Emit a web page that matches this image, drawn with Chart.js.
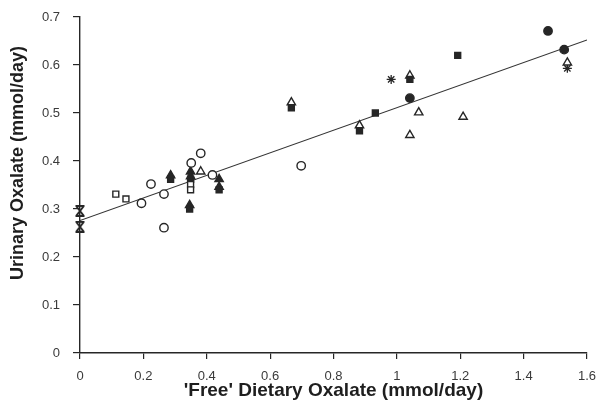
<!DOCTYPE html>
<html>
<head>
<meta charset="utf-8">
<script src="https://cdn.jsdelivr.net/npm/chart.js@4/dist/chart.umd.min.js"></script>
<style>
  html, body { margin: 0; padding: 0; background: #ffffff; }
  #wrap { width: 599px; height: 403px; position: relative; }
</style>
</head>
<body>
<div id="wrap"><canvas id="c" width="599" height="403"></canvas></div>
<script>
// ---- data ----
const xTicks = [0, 0.2, 0.4, 0.6, 0.8, 1, 1.2, 1.4, 1.6];
const yTicks = [0, 0.1, 0.2, 0.3, 0.4, 0.5, 0.6, 0.7];
const xTitle = "'Free' Dietary Oxalate (mmol/day)";
const yTitle = "Urinary Oxalate (mmol/day)";

const openCircleX = [0.194, 0.224, 0.265, 0.265, 0.351, 0.381, 0.418, 0.698];
const openCircleY = [0.312, 0.352, 0.331, 0.261, 0.396, 0.416, 0.371, 0.390];

const openSquareX = [0.113, 0.145, 0.349, 0.349];
const openSquareY = [0.331, 0.321, 0.351, 0.340];

const openTriangleX = [0.381, 0.667, 0.882, 1.041, 1.069, 1.041, 1.209, 1.538];
const openTriangleY = [0.378, 0.522, 0.474, 0.578, 0.501, 0.454, 0.492, 0.605];

const filledTriangleX = [0.286, 0.349, 0.349, 0.439, 0.346, 0.439];
const filledTriangleY = [0.370, 0.378, 0.368, 0.362, 0.308, 0.346];

const filledSquareX = [0.286, 0.349, 0.346, 0.439, 0.667, 0.882, 0.932, 1.041, 1.192];
const filledSquareY = [0.362, 0.362, 0.300, 0.340, 0.511, 0.463, 0.500, 0.570, 0.620];

const filledCircleX = [1.041, 1.477, 1.528];
const filledCircleY = [0.531, 0.671, 0.632];

const asteriskX = [0.982, 1.538];
const asteriskY = [0.570, 0.593];

const crossX = [0, 0];
const crossY = [0.296, 0.263];

const regIntercept = 0.276;
const regSlope = 0.235;

// ---- build ----
const ink = '#262626';
function pts(xs, ys) { return xs.map((x, i) => ({ x: x, y: ys[i] })); }
const xMin = xTicks[0], xMax = xTicks[xTicks.length - 1];

// hourglass-style cross marker (X with short top and bottom bars)
function makeHourglass() {
  const c = document.createElement('canvas');
  c.width = 12; c.height = 12;
  const g = c.getContext('2d');
  g.strokeStyle = ink; g.lineWidth = 2;
  g.beginPath();
  g.moveTo(2.5, 1.5); g.lineTo(9.5, 10.5);
  g.moveTo(9.5, 1.5); g.lineTo(2.5, 10.5);
  g.moveTo(1.5, 1); g.lineTo(10.5, 1);
  g.moveTo(1.5, 11); g.lineTo(10.5, 11);
  g.stroke();
  return c;
}

function scatter(label, xs, ys, style, filled, radius, bw) {
  return {
    type: 'scatter', label: label, data: pts(xs, ys), clip: false,
    pointStyle: style, pointRadius: radius, pointHoverRadius: radius,
    borderColor: ink, backgroundColor: filled ? ink : '#ffffff',
    pointBorderWidth: bw || 1.4, borderWidth: bw || 1.4
  };
}

const datasets = [
  {
    type: 'line', label: 'regression',
    data: [{ x: xMin, y: regIntercept + regSlope * xMin }, { x: xMax, y: regIntercept + regSlope * xMax }],
    borderColor: '#333', borderWidth: 1.1, pointRadius: 0, fill: false, order: 10
  },
  scatter('open circles', openCircleX, openCircleY, 'circle', false, 4.2),
  scatter('open squares', openSquareX, openSquareY, 'rect', false, 4.2),
  scatter('filled squares', filledSquareX, filledSquareY, 'rect', true, 4.2),
  scatter('filled triangles', filledTriangleX, filledTriangleY, 'triangle', true, 4.8),
  scatter('open triangles', openTriangleX, openTriangleY, 'triangle', false, 4.8),
  scatter('filled circles', filledCircleX, filledCircleY, 'circle', true, 4.2),
  scatter('asterisks', asteriskX, asteriskY, 'star', false, 4.5, 1.3),
  scatter('crosses', crossX, crossY, makeHourglass(), false, 5, 2)
];

const titlePlugin = {
  id: 'axisTitles',
  afterDraw(chart) {
    const ctx = chart.ctx;
    const a = chart.chartArea;
    ctx.save();
    ctx.fillStyle = '#1e1e1e';
    ctx.textAlign = 'center';
    ctx.textBaseline = 'middle';
    ctx.font = 'bold 19px "Liberation Sans", Arial, sans-serif';
    ctx.fillText(xTitle, (a.left + a.right) / 2, 391);
    ctx.font = 'bold 18px "Liberation Sans", Arial, sans-serif';
    ctx.translate(18, 163);
    ctx.rotate(-Math.PI / 2);
    ctx.fillText(yTitle, 0, 0);
    ctx.restore();
  }
};

new Chart(document.getElementById('c'), {
  data: { datasets: datasets },
  plugins: [titlePlugin],
  options: {
    responsive: false,
    animation: false,
    layout: { padding: { top: 17, right: 12, left: 0, bottom: 0 } },
    plugins: { legend: { display: false }, tooltip: { enabled: false } },
    scales: {
      x: {
        type: 'linear', min: xMin, max: xMax,
        afterFit(s) { s.height = 50; s.paddingLeft = 0; s.paddingRight = 0; },
        afterBuildTicks(s) { s.ticks = xTicks.map(v => ({ value: v })); },
        grid: { drawOnChartArea: false, drawTicks: true, tickLength: 6, color: ink, lineWidth: 1.2 },
        border: { display: true, color: ink, width: 1.4 },
        ticks: {
          color: '#3a3a3a', padding: 10, maxRotation: 0, autoSkip: false,
          font: { family: '"Liberation Sans", Arial, sans-serif', size: 13 },
          callback: v => String(v)
        }
      },
      y: {
        type: 'linear', min: yTicks[0], max: yTicks[yTicks.length - 1],
        afterFit(s) { s.width = 80; s.paddingTop = 0; s.paddingBottom = 0; },
        afterBuildTicks(s) { s.ticks = yTicks.map(v => ({ value: v })); },
        grid: { drawOnChartArea: false, drawTicks: true, tickLength: 7, color: ink, lineWidth: 1.2 },
        border: { display: true, color: ink, width: 1.4 },
        ticks: {
          color: '#3a3a3a', padding: 13, autoSkip: false,
          font: { family: '"Liberation Sans", Arial, sans-serif', size: 13 },
          callback: v => String(v)
        }
      }
    }
  }
});
</script>
</body>
</html>
